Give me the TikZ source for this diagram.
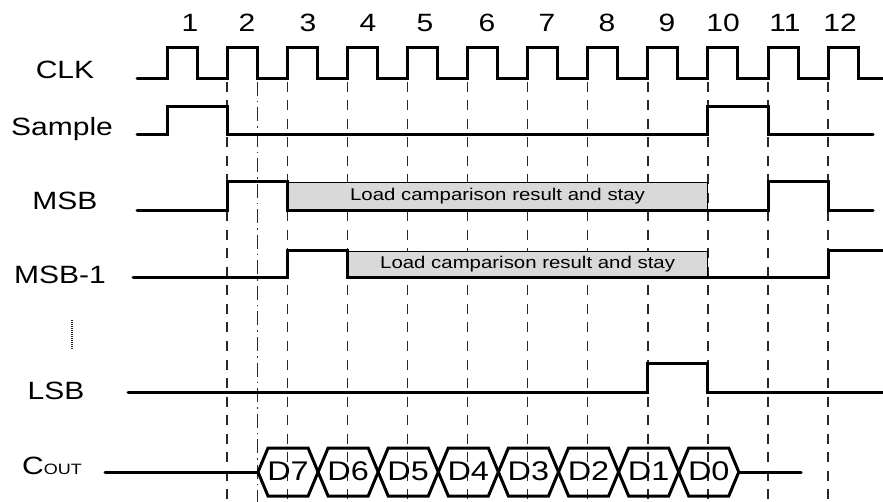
\documentclass[tikz,border=0pt]{standalone}
\usepackage{fontspec}
\setmainfont[FakeStretch=1.2]{Liberation Sans}
\definecolor{boxGray}{RGB}{217,217,217}
\definecolor{gridGray}{RGB}{40,40,40}

\begin{document}
\begin{tikzpicture}[x=1pt, y=-1pt,
    sigStyle/.style={line width=3pt, line cap=round, line join=miter},
    gridStyle/.style={gridGray, line width=1.4pt, dash pattern=on 10pt off 8.5pt},
    dotGridStyle/.style={gridGray, line width=1.2pt, dash pattern=on 14pt off 5pt on 1.5pt off 5pt},
    boxStyle/.style={rectangle, draw, fill=boxGray, line width=0.9pt, inner sep=0pt, font=\fontsize{17}{17}\selectfont},
    labelStyle/.style={inner sep=0pt, anchor=base, font=\fontsize{25}{25}\selectfont},
    numStyle/.style={inner sep=0pt, anchor=base, font=\fontsize{25}{25}\selectfont},
    hexStyle/.style={line width=3pt, line join=miter},
    dStyle/.style={inner sep=0pt, font=\fontsize{27}{27}\selectfont}]
    \useasboundingbox (0,0) rectangle (883,502);

    % row names
    \node[labelStyle] (clk)    at (65,79)  {CLK};
    \node[labelStyle] (sample) at (62,136) {Sample};
    \node[labelStyle] (msb)    at (65,210) {MSB};
    \node[labelStyle] (msb1)   at (60,284) {MSB-1};
    \node[labelStyle] (lsb)    at (56,399) {LSB};
    \node[labelStyle] (cout)   at (52,474) {C{\fontsize{15}{15}\selectfont OUT}};
    \draw[gridGray, line width=1.2pt, dash pattern=on 1pt off 1pt] (72,320) -- (72,349);

    % clock numbers
    \foreach \k/\xx in {1/190,2/247,3/308,4/368,5/425,6/487,7/547,8/607,9/667,10/723,11/785,12/840}
        \node[numStyle] (n\k) at (\xx,32) {\k};

    % edge lines
    \foreach \k in {0,...,10}
        \draw[gridStyle] ({227.1+60.1*\k},82) -- ++(0,420);
    \draw[dotGridStyle] (257.1,82) -- (257.1,502);

    % comparison boxes
    \node[boxStyle, minimum width=420.7pt, minimum height=29pt] (msbBox)  at (497.55,196.5) {Load camparison result and stay};
    \node[boxStyle, minimum width=360.6pt, minimum height=27pt] (msb1Box) at (527.6,264.5)  {Load camparison result and stay};

    % signals
    \draw[sigStyle] (137,79) \foreach \k in {0,...,11} { -- ({167+60.1*\k},79) -- ({167+60.1*\k},48) -- ({197+60.1*\k},48) -- ({197+60.1*\k},79) } -- (883,79);
    \draw[sigStyle] (137,135) -- (167,135) -- (167,107) -- (227.1,107) -- (227.1,135) -- (707.9,135) -- (707.9,107) -- (768,107) -- (768,135) -- (873,135);
    \draw[sigStyle] (137,211) -- (227.1,211) -- (227.1,182) -- (287.2,182) -- (287.2,211) -- (768,211) -- (768,182) -- (828.1,182) -- (828.1,211) -- (873,211);
    \draw[sigStyle] (133,278) -- (287.2,278) -- (287.2,251) -- (347.3,251) -- (347.3,278) -- (828.1,278) -- (828.1,251) -- (883,251);
    \draw[sigStyle] (128,392) -- (647.8,392) -- (647.8,363) -- (707.9,363) -- (707.9,392) -- (883,392);

    % output bits
    \coordinate (busStart) at (105,472);
    \coordinate (busEnd)   at (801,472);
    \draw[sigStyle] (busStart) -- (258,472);
    \foreach \i/\lab in {0/D7,1/D6,2/D5,3/D4,4/D3,5/D2,6/D1,7/D0} {
        \draw[hexStyle] ({258+60.1*\i},472) -- ++(10,-24) -- ({308.1+60.1*\i},448) -- ({318.1+60.1*\i},472)
            -- ({308.1+60.1*\i},496) -- ({268+60.1*\i},496) -- cycle;
        \node[dStyle] (d\i) at ({288+60.1*\i},471) {\lab};
    }
    \draw[sigStyle] (738.8,472) -- (busEnd);
\end{tikzpicture}
\end{document}
